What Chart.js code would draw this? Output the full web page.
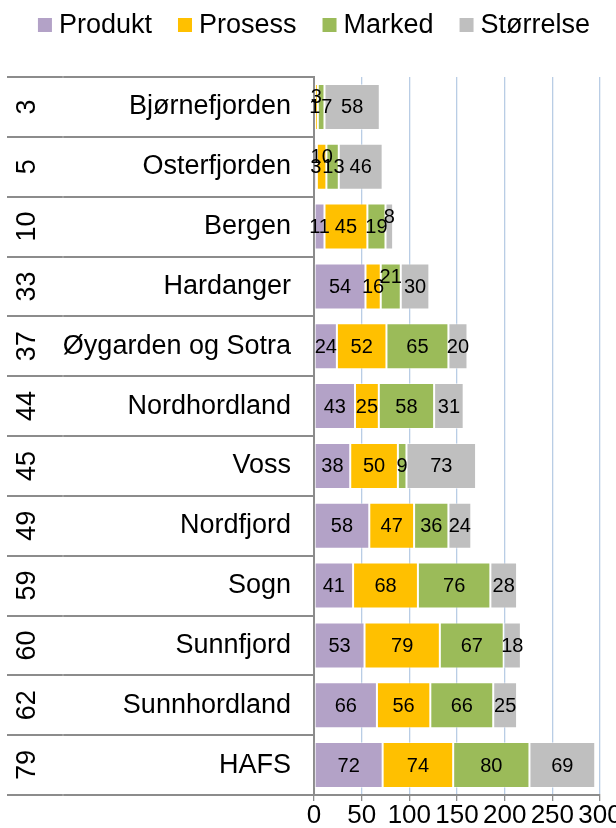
<!DOCTYPE html>
<html>
<head>
<meta charset="utf-8">
<title>Regioner</title>
<script src="https://cdn.jsdelivr.net/npm/chart.js@4.4.0/dist/chart.umd.min.js"></script>
<style>
  html, body { margin: 0; padding: 0; background: #fff; }
  #wrap { width: 616px; height: 828px; }
</style>
</head>
<body>
<div id="wrap"><canvas id="chart"></canvas></div>
<script>
/* ---- data ---------------------------------------------------------------- */
const regions = ["Bjørnefjorden", "Osterfjorden", "Bergen", "Hardanger", "Øygarden og Sotra",
                 "Nordhordland", "Voss", "Nordfjord", "Sogn", "Sunnfjord", "Sunnhordland", "HAFS"];
const regionTotals = ["3", "5", "10", "33", "37", "44", "45", "49", "59", "60", "62", "79"];

const produkt   = [1, 3, 11, 54, 24, 43, 38, 58, 41, 53, 66, 72];
const prosess   = [3, 10, 45, 16, 52, 25, 50, 47, 68, 79, 56, 74];
const marked    = [7, 13, 19, 21, 65, 58, 9, 36, 76, 67, 66, 80];
const storrelse = [58, 46, 8, 30, 20, 31, 73, 24, 28, 18, 25, 69];

const xMin = 0, xMax = 300, xStep = 50;

const FONT = '"Liberation Sans", Arial, sans-serif';
const LINE_GREY = "#8c8c8c";

/* ---- legend at top (drawn by hand so spacing matches) --------------------- */
const topLegend = {
    id: "topLegend",
    afterDraw(chart) {
        const ctx = chart.ctx;
        const box = 14, gap = 7, spacing = 26, cy = 25;
        ctx.save();
        ctx.font = "27px " + FONT;
        ctx.textBaseline = "middle";
        ctx.textAlign = "left";
        const items = chart.data.datasets.map(ds => ({
            text: ds.label, color: ds.backgroundColor, w: ctx.measureText(ds.label).width
        }));
        const total = items.reduce((s, it) => s + box + gap + it.w, 0) + spacing * (items.length - 1);
        let x = (chart.width - total) / 2 + 6;
        items.forEach(it => {
            ctx.fillStyle = it.color;
            ctx.fillRect(x, cy - box / 2, box, box);
            ctx.fillStyle = "#000";
            ctx.fillText(it.text, x + box + gap, cy + 1);
            x += box + gap + it.w + spacing;
        });
        ctx.restore();
    }
};

/* ---- left table: row lines + rotated numbers ----------------------------- */
const leftTable = {
    id: "leftTable",
    afterDraw(chart) {
        const ctx = chart.ctx;
        const y = chart.scales.y;
        const area = chart.chartArea;
        const n = chart.data.labels.length;
        const step = (area.bottom - area.top) / n;
        ctx.save();
        ctx.lineWidth = 2;
        for (let i = 0; i <= n; i++) {
            const py = Math.round(area.top + i * step);
            ctx.strokeStyle = LINE_GREY;
            ctx.beginPath();
            ctx.moveTo(7, py);
            ctx.lineTo(area.left, py);
            ctx.stroke();
            // faint joint where the two label columns meet
            ctx.strokeStyle = "#b0b0b0";
            ctx.beginPath();
            ctx.moveTo(62.5, py);
            ctx.lineTo(63.5, py);
            ctx.stroke();
        }
        ctx.fillStyle = "#000";
        ctx.font = "27px " + FONT;
        ctx.textAlign = "center";
        ctx.textBaseline = "middle";
        regionTotals.forEach((t, i) => {
            ctx.save();
            ctx.translate(27, y.getPixelForValue(i));
            ctx.rotate(-Math.PI / 2);
            ctx.fillText(t, 0, 1);
            ctx.restore();
        });
        ctx.restore();
    }
};

/* ---- value labels inside segments --------------------------------------- */
// Labels that don't fit get lifted up; if that spot is taken too, pushed right.
const valueLabels = {
    id: "valueLabels",
    afterDatasetsDraw(chart) {
        const ctx = chart.ctx;
        ctx.save();
        ctx.font = "20px " + FONT;
        ctx.fillStyle = "#000";
        ctx.textAlign = "center";
        ctx.textBaseline = "middle";
        chart.data.labels.forEach((_, i) => {
            let normalRight = -Infinity, raisedRight = -Infinity;
            chart.data.datasets.forEach((ds, d) => {
                const bar = chart.getDatasetMeta(d).data[i];
                const txt = String(ds.data[i]);
                const w = ctx.measureText(txt).width;
                let cx = (bar.x + bar.base) / 2;
                let dy = 1;
                if (cx - w / 2 >= normalRight + 1) {
                    normalRight = cx + w / 2;
                } else if (cx - w / 2 >= raisedRight + 1) {
                    dy = -9;
                    raisedRight = cx + w / 2;
                } else {
                    cx = normalRight + 1 + w / 2;
                    normalRight = cx + w / 2;
                }
                ctx.fillText(txt, cx, bar.y + dy);
            });
        });
        ctx.restore();
    }
};

/* ---- chart ---------------------------------------------------------------- */
const ctx = document.getElementById("chart");

new Chart(ctx, {
    type: "bar",
    data: {
        labels: regions,
        datasets: [
            { label: "Produkt",   data: produkt,   backgroundColor: "#b3a2c7" },
            { label: "Prosess",   data: prosess,   backgroundColor: "#ffc000" },
            { label: "Marked",    data: marked,    backgroundColor: "#9bbb59" },
            { label: "Størrelse", data: storrelse, backgroundColor: "#bfbfbf" }
        ]
    },
    options: {
        indexAxis: "y",
        responsive: true,
        maintainAspectRatio: false,
        animation: false,
        layout: { padding: { top: 77, right: 16, left: 0, bottom: 0 } },
        datasets: {
            bar: {
                categoryPercentage: 1,
                barPercentage: 0.77,
                borderWidth: 1,
                borderSkipped: false,
                borderColor: "rgba(255, 255, 255, 0.45)"
            }
        },
        plugins: {
            legend: { display: false },
            tooltip: { enabled: false }
        },
        scales: {
            x: {
                stacked: true,
                min: xMin,
                max: xMax,
                ticks: {
                    stepSize: xStep,
                    color: "#000",
                    padding: 2,
                    autoSkip: false,
                    maxRotation: 0,
                    minRotation: 0,
                    font: { family: FONT, size: 26, lineHeight: 1 }
                },
                grid: { color: "#b9cde5", lineWidth: 1.3, tickColor: LINE_GREY, tickLength: 6 },
                border: { color: LINE_GREY, width: 2 },
                afterFit(scale) {
                    scale.height = 33;
                    scale.paddingLeft = 0;
                    scale.paddingRight = 0;
                }
            },
            y: {
                stacked: true,
                ticks: {
                    color: "#000",
                    padding: 23,
                    font: { family: FONT, size: 27 }
                },
                grid: { drawOnChartArea: false, drawTicks: false },
                border: { color: LINE_GREY, width: 2 },
                afterFit(scale) {
                    scale.width = 314;
                    scale.paddingTop = 0;
                    scale.paddingBottom = 0;
                }
            }
        }
    },
    plugins: [topLegend, leftTable, valueLabels]
});
</script>
</body>
</html>
